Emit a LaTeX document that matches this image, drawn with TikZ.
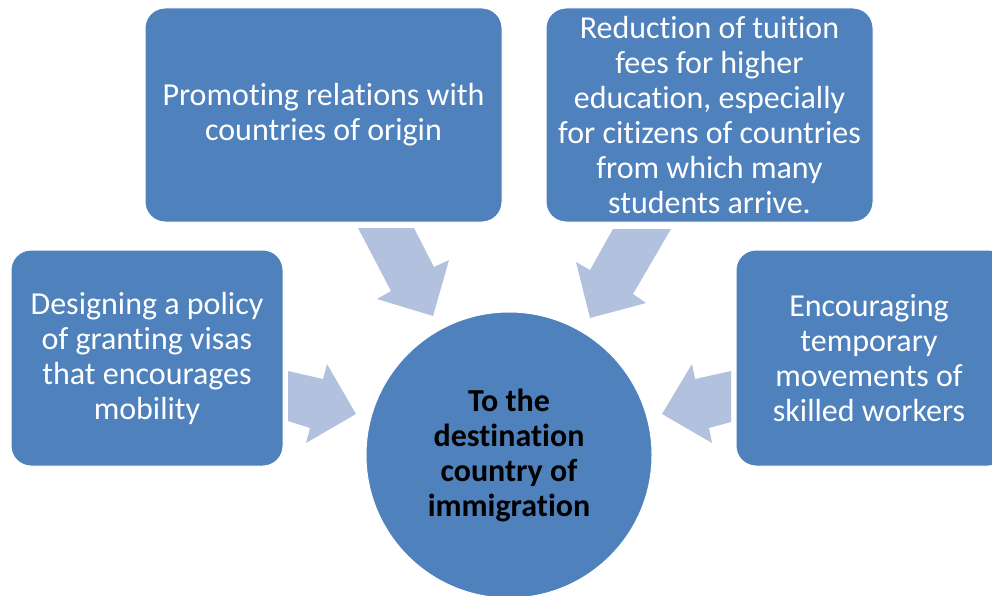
\documentclass[tikz,border=0pt]{standalone}
\usepackage{fontspec}
\setmainfont{Carlito}[Ligatures=NoCommon]
\definecolor{boxblue}{HTML}{4F81BD}
\definecolor{arrowblue}{HTML}{B2C1DD}
\begin{document}
\begin{tikzpicture}[x=1pt,y=-1pt,
  card/.style={fill=boxblue, draw=white, line width=1pt, rounded corners=20pt,
    text=white, align=center, font=\fontsize{32}{35}\selectfont, inner sep=0pt},
  hub/.style={circle, fill=boxblue, draw=white, line width=1pt, text=black,
    align=center, font=\bfseries\fontsize{32}{35}\selectfont,
    minimum size=286pt, inner sep=0pt},
  flow/.style={fill=arrowblue}]
\useasboundingbox (0,0) rectangle (992,596);
\clip (0,0) rectangle (992,596);

% block arrows pointing at the hub
\fill[flow] (358,228) -- (414,228) -- (434,267) -- (449,260) -- (433,316)
  -- (377,299) -- (391,291) -- cycle;
\fill[flow] (613,229) -- (671,229) -- (633,294) -- (646,303) -- (590,318)
  -- (576,262) -- (590,270) -- cycle;
\fill[flow] (288,371) -- (323,379) -- (327,364) -- (356,414) -- (306,443)
  -- (310,428) -- (288,421) -- cycle;
\fill[flow] (731,371) -- (695,379) -- (692,364) -- (662,414) -- (712,443)
  -- (709,428) -- (731,422) -- cycle;

% outer measures
\node[card, minimum width=357pt, minimum height=214pt] (relations) at (323.5,115)
  {Promoting relations with\\countries of origin};
\node[card, minimum width=327pt, minimum height=214pt] (fees) at (709.5,115)
  {Reduction of tuition\\fees for higher\\education, especially\\for citizens of countries\\from which many\\students arrive.};
\node[card, minimum width=272pt, minimum height=216pt] (visas) at (147,358)
  {Designing a policy\\of granting visas\\that encourages\\mobility};
\node[card, minimum width=272pt, minimum height=216pt] (workers) at (872,358)
  {\hspace*{-6pt}Encouraging\\\hspace*{-6pt}temporary\\\hspace*{-6pt}movements of\\\hspace*{-6pt}skilled workers};

% central goal
\node[hub] (goal) at (509,455)
  {To the\\destination\\country of\\immigration};
\end{tikzpicture}
\end{document}
